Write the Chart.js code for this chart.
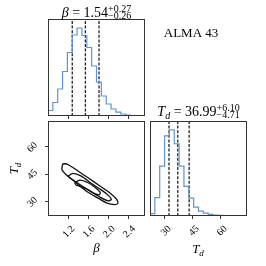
<!DOCTYPE html>
<html><head><meta charset="utf-8">
<script src="https://cdn.jsdelivr.net/npm/chart.js@4"></script>
<style>
html,body{margin:0;padding:0;background:#fff;}
#wrap{position:relative;width:266px;height:266px;overflow:hidden;}
canvas{position:absolute;left:0;top:0;}
</style></head><body>
<div id="wrap">
<canvas id="c1" width="266" height="266"></canvas>
<canvas id="c2" width="266" height="266"></canvas>
<canvas id="c3" width="266" height="266"></canvas>
</div>
<script>
// ---- data ----
const betaEdges = [0.800,0.896,0.992,1.088,1.184,1.280,1.376,1.472,1.568,1.664,1.760,1.856,1.952,2.048,2.144,2.240,2.336,2.432,2.528,2.624,2.720];
const betaCounts = [1.8,5.5,13.5,27,44.5,63.5,81,88,80.5,68.5,50,34,20,12,7,3.8,2,1,0.5,0.3];
const tdEdges = [22.1,24.7,27.3,29.9,32.5,35.1,37.7,40.3,42.9,45.5,48.1,50.7,53.3,55.9,58.5,61.1,63.7,66.3,68.9,71.5,74.1];
const tdCounts = [0,2.5,18.5,50.5,81,87,73,50.5,30,18,9,5,3,1.6,1,0.6,0.3,0.2,0,0];
const betaQuantiles = [1.28, 1.54, 1.81];
const tdQuantiles = [32.28, 36.99, 43.09];
const betaTicks = [1.2, 1.6, 2.0, 2.4];
const tdTicks = [30, 45, 60];
const betaRange = [0.8, 2.72];
const tdRange = [22.1, 74.1];
const contourOuterBeta = [1.094,1.194,1.394,1.594,1.814,2.014,2.154,2.184,2.124,1.954,1.834,1.714,1.554,1.394,1.234,1.134,1.074,1.094];
const contourOuterTd   = [50.8,50.3,46.7,43.0,38.8,35.0,31.4,29.0,28.3,29.3,31.2,33.1,35.8,39.4,43.0,45.4,47.6,50.8];
const contourMidBeta = [1.194,1.294,1.46,1.66,1.854,1.994,2.054,1.994,1.834,1.66,1.46,1.26,1.194];
const contourMidTd   = [43.9,45.4,43.9,39.9,36.4,33.4,31.2,30.4,32.3,35.3,38.8,42.5,43.9];
const contourInBeta = [1.328,1.428,1.594,1.734,1.834,1.814,1.714,1.594,1.434,1.354,1.328];
const contourInTd   = [40.2,41.7,40.3,37.7,35.0,33.7,34.5,36.4,38.3,39.1,40.2];

// ---- helpers ----
const SERIF = '"Liberation Serif","DejaVu Serif",serif';
const HIST_COLOR = '#5f95cd';
const AX_COLOR = '#333';

function stepPoints(edges, counts){
  const pts = [{x:edges[0], y:0}];
  counts.forEach((c,i)=>pts.push({x:edges[i], y:c}));
  pts.push({x:edges[edges.length-1], y:counts[counts.length-1]});
  pts.push({x:edges[edges.length-1], y:0});
  return pts;
}
function vlines(qs, ymax){
  return qs.map(q=>({type:'line', data:[{x:q,y:0},{x:q,y:ymax}], borderColor:'#222', borderWidth:1.3, borderDash:[3,1.6], pointRadius:0, fill:false}));
}
function loop(bs, ts){ return bs.map((b,i)=>({x:b, y:ts[i]})); }

function fixSize(prop, val){
  return s => { s[prop] = val; s.paddingLeft=0; s.paddingRight=0; s.paddingTop=0; s.paddingBottom=0; };
}
function xAxis(range, ticks, showLabels, fmt){
  return {
    type:'linear', position:'bottom', min:range[0], max:range[1],
    afterBuildTicks: s => { s.ticks = ticks.map(v=>({value:v})); },
    afterFit: fixSize('height', 30),
    ticks:{display:showLabels, autoSkip:false, minRotation:45, maxRotation:45, padding:4, labelOffset:5,
      color:'#000', font:{family:SERIF, size:10}, callback: fmt},
    grid:{display:true, drawOnChartArea:false, drawTicks:true, tickLength:3, color:AX_COLOR, lineWidth:1},
    border:{display:false}
  };
}
function yHidden(max){
  return {type:'linear', display:false, min:0, max:max};
}
const frame = {
  id:'frame',
  afterDraw(chart){
    const a = chart.chartArea, ctx = chart.ctx;
    ctx.save(); ctx.strokeStyle = AX_COLOR; ctx.lineWidth = 1;
    ctx.strokeRect(Math.round(a.left)+0.5, Math.round(a.top)+0.5, Math.round(a.right-a.left)-1, Math.round(a.bottom-a.top)-1);
    ctx.restore();
  }
};
const common = {responsive:false, maintainAspectRatio:false, animation:false, devicePixelRatio:1,
  plugins:{legend:{display:false}, tooltip:{enabled:false}}, events:[]};

// ---- chart 1: beta histogram ----
new Chart(document.getElementById('c1'), {
  type:'scatter',
  data:{datasets:[
    {type:'line', data:stepPoints(betaEdges, betaCounts), stepped:'after', borderColor:HIST_COLOR, borderWidth:1.2, pointRadius:0, fill:false},
    ...vlines(betaQuantiles, 97)
  ]},
  options:Object.assign({}, common, {
    layout:{padding:{left:48, top:19, right:121, bottom:120}},
    scales:{ x: xAxis(betaRange, betaTicks, false, v=>v.toFixed(1)), y: yHidden(97) }
  }),
  plugins:[frame]
});

// ---- chart 2: contours ----
new Chart(document.getElementById('c2'), {
  type:'scatter',
  data:{datasets:[
    {data:loop(contourOuterBeta, contourOuterTd), showLine:true, tension:0.25, borderColor:'#111', borderWidth:1.3, pointRadius:0, fill:false},
    {data:loop(contourMidBeta, contourMidTd), showLine:true, tension:0.25, borderColor:'#111', borderWidth:1.3, pointRadius:0, fill:false},
    {data:loop(contourInBeta, contourInTd), showLine:true, tension:0.25, borderColor:'#111', borderWidth:1.3, pointRadius:0, fill:false}
  ]},
  options:Object.assign({}, common, {
    layout:{padding:{left:0, top:121, right:121, bottom:20}},
    scales:{
      x: xAxis(betaRange, betaTicks, true, v=>v.toFixed(1)),
      y: {type:'linear', position:'left', min:tdRange[0], max:tdRange[1],
        afterBuildTicks: s => { s.ticks = tdTicks.map(v=>({value:v})); },
        afterFit: fixSize('width', 48),
        ticks:{autoSkip:false, minRotation:45, maxRotation:45, padding:9, labelOffset:-3,
          color:'#000', font:{family:SERIF, size:10}, callback:v=>String(v)},
        grid:{display:true, drawOnChartArea:false, drawTicks:true, tickLength:3, color:AX_COLOR, lineWidth:1},
        border:{display:false}}
    }
  }),
  plugins:[frame]
});

// ---- chart 3: Td histogram + text ----
function drawMath(ctx, cx, y, parts, sup, sub){
  let w = 0;
  parts.forEach(p=>{ ctx.font = p.font; w += ctx.measureText(p.t).width; });
  let sw = 0;
  if (sup){ ctx.font = sup.font; sw = Math.max(ctx.measureText(sup.t).width, (ctx.font=sub.font, ctx.measureText(sub.t).width)); }
  let x = cx - (w + sw)/2;
  ctx.textAlign = 'left'; ctx.textBaseline = 'alphabetic'; ctx.fillStyle = '#000';
  parts.forEach(p=>{ ctx.font = p.font; ctx.fillText(p.t, x, y + (p.dy||0)); x += ctx.measureText(p.t).width; });
  if (sup){
    ctx.font = sup.font; ctx.fillText(sup.t, x, y + sup.dy);
    ctx.font = sub.font; ctx.fillText(sub.t, x, y + sub.dy);
  }
}
const texts = {
  id:'texts',
  afterDraw(chart){
    const ctx = chart.ctx; ctx.save();
    const f14 = '14px '+SERIF, fi14 = 'italic 14px '+SERIF, f10 = '10px '+SERIF, fi10 = 'italic 10px '+SERIF;
    drawMath(ctx, 96.5, 16.5, [{t:'β', font:fi14},{t:' = 1.54', font:f14}],
      {t:'+0.27', font:f10, dy:-5}, {t:'−0.26', font:f10, dy:2});
    drawMath(ctx, 198.5, 116, [{t:'T', font:fi14},{t:'d', font:fi10, dy:2.5},{t:' = 36.99', font:f14}],
      {t:'+6.10', font:f10, dy:-5}, {t:'−4.71', font:f10, dy:2});
    ctx.font = '13px '+SERIF; ctx.textAlign='center'; ctx.textBaseline='alphabetic';
    ctx.fillText('ALMA 43', 191, 37);
    // axis titles
    drawMath(ctx, 96.5, 252, [{t:'β', font:'italic 13px '+SERIF}]);
    drawMath(ctx, 198, 253, [{t:'T', font:'italic 13px '+SERIF},{t:'d', font:'italic 9px '+SERIF, dy:2.5}]);
    ctx.save(); ctx.translate(18, 168.5); ctx.rotate(-Math.PI/2);
    drawMath(ctx, 0, 0, [{t:'T', font:'italic 13px '+SERIF},{t:'d', font:'italic 9px '+SERIF, dy:2.5}]);
    ctx.restore();
    ctx.restore();
  }
};
new Chart(document.getElementById('c3'), {
  type:'scatter',
  data:{datasets:[
    {type:'line', data:stepPoints(tdEdges, tdCounts), stepped:'after', borderColor:HIST_COLOR, borderWidth:1.2, pointRadius:0, fill:false},
    ...vlines(tdQuantiles, 96)
  ]},
  options:Object.assign({}, common, {
    layout:{padding:{left:150, top:121, right:19, bottom:20}},
    scales:{ x: xAxis(tdRange, tdTicks, true, v=>String(v)), y: yHidden(96) }
  }),
  plugins:[frame, texts]
});
</script>
</body></html>
